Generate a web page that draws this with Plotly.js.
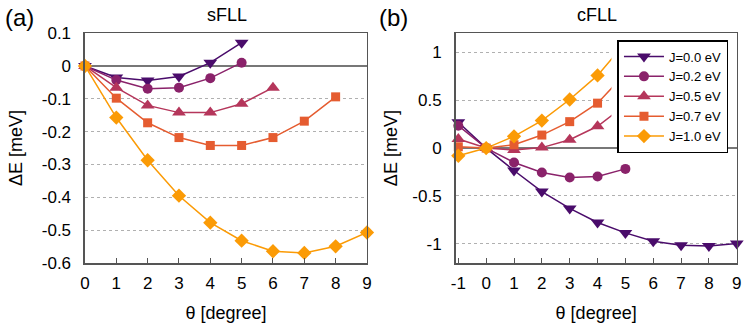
<!DOCTYPE html>
<html>
<head>
<meta charset="utf-8">
<script src="https://cdn.plot.ly/plotly-3.0.1.min.js"></script>
<style>
  html, body { margin: 0; padding: 0; background: #fff; }
  #chart { width: 748px; height: 328px; }
</style>
</head>
<body>
<div id="chart"></div>
<script>
// exchange J values (legend)
const jLabels = ['J=0.0 eV', 'J=0.2 eV', 'J=0.5 eV', 'J=0.7 eV', 'J=1.0 eV'];
const colors = ['#4a0c6b', '#8a226a', '#b5365b', '#e55c30', '#fb9b06'];
const symbols = ['triangle-down', 'circle', 'triangle-up', 'square', 'diamond'];
const sizes = [12, 10, 12, 9, 11];

// (a) sFLL : theta [degree] vs dE [meV]
const sTheta = [0, 1, 2, 3, 4, 5, 6, 7, 8, 9];
const sJ00 = [0, -0.035, -0.044, -0.032, 0.010, 0.071];
const sJ02 = [0, -0.043, -0.069, -0.066, -0.037, 0.010];
const sJ05 = [0, -0.066, -0.120, -0.142, -0.142, -0.115, -0.066];
const sJ07 = [0, -0.098, -0.173, -0.218, -0.242, -0.242, -0.218, -0.168, -0.094];
const sJ10 = [0, -0.157, -0.287, -0.395, -0.477, -0.532, -0.564, -0.569, -0.549, -0.507];

// (b) cFLL
const cTheta = [-1, 0, 1, 2, 3, 4, 5, 6, 7, 8, 9];
const cJ00 = [0.270, 0, -0.234, -0.454, -0.630, -0.776, -0.885, -0.972, -1.014, -1.021, -0.997];
const cJ02 = [0.234, 0, -0.150, -0.255, -0.307, -0.297, -0.217];
const cJ05 = [0.094, 0, -0.020, 0.005, 0.087, 0.228];
const cJ07 = [0.014, 0, 0.035, 0.136, 0.276, 0.469];
const cJ10 = [-0.080, 0, 0.123, 0.287, 0.507, 0.759];
// curves keep going under the legend box
const cTailX = 5;
const cTail = [null, null, 0.45, 0.78, 1.10];

const sSeries = [sJ00, sJ02, sJ05, sJ07, sJ10];
const cSeries = [cJ00, cJ02, cJ05, cJ07, cJ10];

const sYTicks = [0.1, 0, -0.1, -0.2, -0.3, -0.4, -0.5, -0.6];
const sYText = ['0.1', '0', '-0.1', '-0.2', '-0.3', '-0.4', '-0.5', '-0.6'];
const cYTicks = [1, 0.5, 0, -0.5, -1];
const cYText = ['1', '0.5', '0', '-0.5', '-1'];
const sXTicks = [0, 1, 2, 3, 4, 5, 6, 7, 8, 9];
const cXTicks = [-1, 0, 1, 2, 3, 4, 5, 6, 7, 8, 9];
const cXText = ['-1', '0', '1', '2', '3', '4', '5', '6', '7', '8', '9'];

const data = [];

sSeries.forEach((ys, i) => {
  data.push({
    x: sTheta.slice(0, ys.length), y: ys,
    xaxis: 'x', yaxis: 'y',
    type: 'scatter', mode: 'lines+markers',
    name: jLabels[i],
    line: { color: colors[i], width: 1.5 },
    marker: { color: colors[i], symbol: symbols[i], size: sizes[i] },
    cliponaxis: false
  });
});

cSeries.forEach((ys, i) => {
  if (cTail[i] !== null) {
    data.push({
      x: cTheta.slice(0, ys.length).concat([cTailX]),
      y: ys.concat([cTail[i]]),
      xaxis: 'x2', yaxis: 'y2',
      type: 'scatter', mode: 'lines',
      showlegend: false, hoverinfo: 'skip',
      line: { color: colors[i], width: 1.5 }
    });
  }
  data.push({
    x: cTheta.slice(0, ys.length), y: ys,
    xaxis: 'x2', yaxis: 'y2',
    type: 'scatter', mode: cTail[i] !== null ? 'markers' : 'lines+markers',
    showlegend: false,
    line: { color: colors[i], width: 1.5 },
    marker: { color: colors[i], symbol: symbols[i], size: sizes[i] },
    cliponaxis: false
  });
});

const font = { family: 'Liberation Sans, Arial, sans-serif', size: 17, color: '#000' };

const xBase = {
  showline: true, mirror: true, linecolor: '#555', linewidth: 1.5,
  ticks: 'inside', ticklen: 5, tickcolor: '#555',
  showgrid: false, zeroline: false,
  tickfont: { size: 17 }, ticklabelstandoff: 4
};
const yBase = {
  showline: true, mirror: true, linecolor: '#555', linewidth: 1.5,
  ticks: '', showgrid: true, gridcolor: '#b0b0b0', griddash: 'dot', gridwidth: 1,
  zeroline: true, zerolinecolor: '#777', zerolinewidth: 2,
  tickfont: { size: 17 }, ticklabelstandoff: 9
};

const layout = {
  width: 748, height: 328,
  margin: { l: 0, r: 0, t: 0, b: 0 },
  paper_bgcolor: '#fff', plot_bgcolor: '#fff',
  font: font,
  showlegend: true,
  legend: {
    x: 0.8255, y: 0.878, xanchor: 'left', yanchor: 'top',
    bgcolor: '#fff', bordercolor: '#000', borderwidth: 1.5,
    font: { size: 13 }, tracegroupgap: 0, itemwidth: 40
  },
  xaxis: Object.assign({}, xBase, {
    domain: [0.1136, 0.4906], range: [0, 9], anchor: 'y',
    tickvals: sXTicks,
    title: { text: 'θ [degree]', font: { size: 18 }, standoff: 14 }
  }),
  yaxis: Object.assign({}, yBase, {
    domain: [0.198, 0.899], range: [-0.6, 0.1], anchor: 'x',
    tickvals: sYTicks, ticktext: sYText,
    title: { text: 'ΔE [meV]', font: { size: 18 }, standoff: 14 }
  }),
  xaxis2: Object.assign({}, xBase, {
    domain: [0.609, 0.985], range: [-1.1, 9], anchor: 'y2',
    tickvals: cXTicks, ticktext: cXText,
    title: { text: 'θ [degree]', font: { size: 18 }, standoff: 14 }
  }),
  yaxis2: Object.assign({}, yBase, {
    domain: [0.198, 0.899], range: [-1.2, 1.2], anchor: 'x2',
    tickvals: cYTicks, ticktext: cYText,
    title: { text: 'ΔE [meV]', font: { size: 18 }, standoff: 10 }
  }),
  // opaque margin around the legend box
  shapes: [
    { type: 'rect', xref: 'x2', yref: 'y2', x0: 4.5, x1: 8.96, y0: 0.065, y1: 1.19,
      fillcolor: '#fff', line: { width: 0 }, layer: 'above' }
  ],
  annotations: [
    { text: '(a)', x: 0.004, y: 0.946, xref: 'paper', yref: 'paper',
      xanchor: 'left', yanchor: 'middle', showarrow: false, font: { size: 24 } },
    { text: '(b)', x: 0.504, y: 0.946, xref: 'paper', yref: 'paper',
      xanchor: 'left', yanchor: 'middle', showarrow: false, font: { size: 24 } },
    { text: 'sFLL', x: 0.303, y: 0.953, xref: 'paper', yref: 'paper',
      xanchor: 'center', yanchor: 'middle', showarrow: false, font: { size: 18 } },
    { text: 'cFLL', x: 0.798, y: 0.953, xref: 'paper', yref: 'paper',
      xanchor: 'center', yanchor: 'middle', showarrow: false, font: { size: 18 } }
  ]
};

Plotly.newPlot('chart', data, layout, { displayModeBar: false, staticPlot: true });
</script>
</body>
</html>
